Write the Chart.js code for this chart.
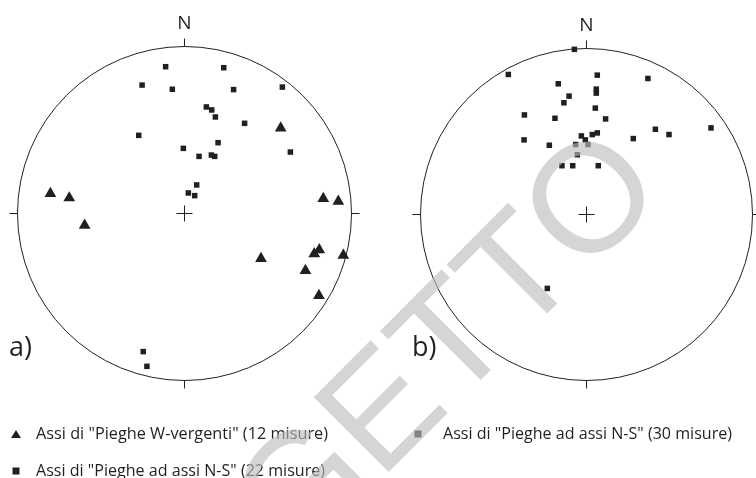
<!DOCTYPE html>
<html><head><meta charset="utf-8">
<script src="https://cdn.jsdelivr.net/npm/chart.js@4"></script>
<style>
html,body{margin:0;padding:0;background:#fff;}
#wrap{position:relative;width:756px;height:478px;overflow:hidden;background:#fff;}
canvas{position:absolute;}
</style></head><body>
<div id="wrap">
<canvas id="netA" width="370" height="400" style="left:0;top:0"></canvas>
<canvas id="netB" width="356" height="400" style="left:400px;top:0"></canvas>
<canvas id="overlay" width="756" height="478" style="left:0;top:0;pointer-events:none"></canvas>
</div>
<script>
// ---- data (unit-circle coordinates, stereonet projection) ----
const northLabel = 'N';
const panelLabels = ['a)', 'b)'];
const legendLabels = [
  'Assi di "Pieghe W-vergenti" (12 misure)',
  'Assi di "Pieghe ad assi N-S" (22 misure)',
  'Assi di "Pieghe ad assi N-S" (30 misure)'
];
const watermarkText = 'PROGETTO';

// net a) - fold axes N-S (22)
const aSquareX = [-0.110, 0.238, -0.251, -0.070, 0.297, 0.589, 0.134, 0.166, 0.188, 0.363, -0.271,
                  0.204, -0.004, 0.090, 0.164, 0.184, 0.637, 0.076, 0.026, 0.064, -0.244, -0.222];
const aSquareY = [0.876, 0.870, 0.766, 0.741, 0.739, 0.754, 0.635, 0.617, 0.575, 0.537, 0.465,
                  0.421, 0.387, 0.339, 0.347, 0.339, 0.365, 0.168, 0.120, 0.104, -0.830, -0.918];
// net a) - W-verging fold axes (12)
const aTriangleX = [0.579, -0.800, -0.687, -0.595, 0.834, 0.924, 0.461, 0.780, 0.810, 0.954, 0.727, 0.808];
const aTriangleY = [0.509, 0.116, 0.090, -0.074, 0.086, 0.070, -0.273, -0.244, -0.220, -0.253, -0.345, -0.495];
// net b) - fold axes N-S (30)
const bSquareX = [-0.070, -0.468, 0.068, 0.373, -0.167, 0.062, 0.062, -0.102, -0.133, 0.056,
                  -0.371, -0.187, 0.118, 0.753, 0.418, 0.500, 0.285, -0.373, -0.028, -0.004,
                  0.038, 0.068, -0.221, -0.062, 0.012, -0.052, -0.145, -0.080, 0.074, -0.233];
const bSquareY = [0.986, 0.835, 0.831, 0.811, 0.779, 0.747, 0.723, 0.705, 0.665, 0.633,
                  0.592, 0.572, 0.568, 0.514, 0.506, 0.474, 0.450, 0.442, 0.466, 0.442,
                  0.474, 0.484, 0.410, 0.414, 0.414, 0.353, 0.287, 0.287, 0.287, -0.450];

const INK = '#231f20';
const toPts = (xs, ys) => xs.map((x, i) => ({x, y: ys[i]}));

const stereoPlugin = {
  id: 'stereo',
  beforeDatasetsDraw(chart, args, opts) {
    const {ctx, scales: {x, y}} = chart;
    const cx = Math.round(x.getPixelForValue(0)) + 0.5;
    const cy = Math.round(y.getPixelForValue(0)) + 0.5;
    const r = x.getPixelForValue(1) - x.getPixelForValue(0);
    ctx.save();
    ctx.strokeStyle = INK; ctx.lineWidth = 1;
    ctx.beginPath(); ctx.arc(cx, cy, r, 0, Math.PI * 2); ctx.stroke();
    const t = 8;
    ctx.beginPath();
    ctx.moveTo(cx, cy - r); ctx.lineTo(cx, cy - r - t);
    ctx.moveTo(cx, cy + r); ctx.lineTo(cx, cy + r + t);
    ctx.moveTo(cx - r, cy); ctx.lineTo(cx - r - t, cy);
    ctx.moveTo(cx + r, cy); ctx.lineTo(cx + r + t, cy);
    ctx.moveTo(cx - 8, cy); ctx.lineTo(cx + 8, cy);
    ctx.moveTo(cx, cy - 8); ctx.lineTo(cx, cy + 8);
    ctx.stroke();
    ctx.fillStyle = INK;
    ctx.font = '19px "Open Sans"';
    ctx.textAlign = 'center'; ctx.textBaseline = 'alphabetic';
    ctx.fillText(northLabel, cx, cy - r - 18);
    ctx.font = '27px "Open Sans"';
    ctx.textAlign = 'left';
    ctx.fillText(opts.panel, opts.panelX, opts.panelY);
    ctx.restore();
  }
};

function makeNet(id, datasets, pad, panel, panelX) {
  return new Chart(document.getElementById(id), {
    type: 'scatter',
    data: {datasets},
    options: {
      responsive: false, animation: false, events: [],
      layout: {padding: pad},
      scales: {
        x: {type: 'linear', min: -1, max: 1, display: false},
        y: {type: 'linear', min: -1, max: 1, display: false}
      },
      plugins: {legend: {display: false}, tooltip: {enabled: false},
                stereo: {panel, panelX, panelY: 356}}
    },
    plugins: [stereoPlugin]
  });
}

const sqStyle = {pointStyle: 'rect', pointRadius: 3.9, backgroundColor: INK, borderWidth: 0, clip: false};
const trStyle = {pointStyle: 'triangle', pointRadius: 6.8, backgroundColor: INK, borderWidth: 0, clip: false};

makeNet('netA', [
  Object.assign({label: legendLabels[0], data: toPts(aTriangleX, aTriangleY)}, trStyle),
  Object.assign({label: legendLabels[1], data: toPts(aSquareX, aSquareY)}, sqStyle)
], {left: 17, right: 19, top: 46, bottom: 20}, panelLabels[0], 9);

makeNet('netB', [
  Object.assign({label: legendLabels[2], data: toPts(bSquareX, bSquareY)}, sqStyle)
], {left: 20, right: 3, top: 47, bottom: 20}, panelLabels[1], 12);

// ---- legend + watermark overlay ----
const ov = document.getElementById('overlay').getContext('2d');
function legendText(text, x, baseline, targetW) {
  ov.font = '16.5px "Open Sans"';
  const w = ov.measureText(text).width;
  ov.save(); ov.translate(x, baseline); ov.scale(targetW / w, 1);
  ov.fillStyle = INK; ov.textAlign = 'left'; ov.textBaseline = 'alphabetic';
  ov.fillText(text, 0, 0); ov.restore();
}
function legendSquare(cx, cy, s) { ov.fillStyle = INK; ov.fillRect(cx - s / 2, cy - s / 2, s, s); }
function legendTriangle(cx, cy, w, h) {
  ov.fillStyle = INK; ov.beginPath();
  ov.moveTo(cx, cy - h / 2); ov.lineTo(cx + w / 2, cy + h / 2); ov.lineTo(cx - w / 2, cy + h / 2);
  ov.closePath(); ov.fill();
}
legendTriangle(16, 434, 10, 8);
legendText(legendLabels[0], 36, 439, 292);
legendSquare(16, 471, 7);
legendText(legendLabels[1], 36, 476, 289);
legendSquare(418, 434, 7);
legendText(legendLabels[2], 443, 439, 289);

ov.save();
ov.translate(587, 196); ov.rotate(-Math.PI / 4);
ov.font = '154px "Liberation Sans"';
const oW = ov.measureText('O').width;
ov.textAlign = 'right'; ov.textBaseline = 'alphabetic';
ov.fillStyle = 'rgba(189,189,189,0.63)';
ov.fillText(watermarkText, oW / 2, 55);
ov.restore();
</script>
</body></html>
